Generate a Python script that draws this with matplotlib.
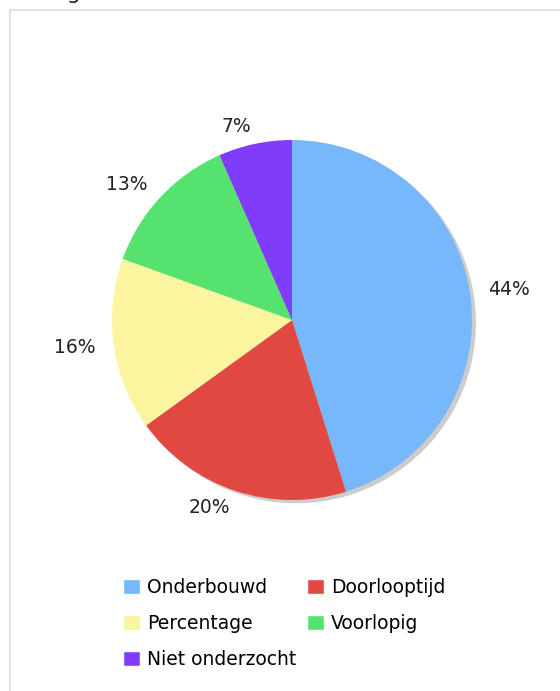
import matplotlib
matplotlib.use("Agg")
import matplotlib.pyplot as plt
from matplotlib.patches import Rectangle

categories = ["Onderbouwd", "Doorlooptijd", "Percentage", "Voorlopig", "Niet onderzocht"]
values = [45.2, 19.9, 15.5, 12.9, 6.6]
pct_labels = ["44%", "20%", "16%", "13%", "7%"]
colors = ["#76b8fb", "#e04841", "#fbf59f", "#56e26e", "#7f3cfb"]

W, H = 560, 691
fig = plt.figure(figsize=(W / 100, H / 100), dpi=100)
fig.patch.set_facecolor("white")

# rand rondom de grafiek
fig.patches.append(Rectangle((10 / W, -0.1), 1.2, 1 - 10 / H + 0.1,
                             transform=fig.transFigure, fill=False,
                             edgecolor="#dddddd", linewidth=1.2))
# afgesneden titel bovenaan
fig.text(42 / W, 1 + 1 / H, "Legenda", fontsize=16, color="#222222", va="baseline")

cx, cy, r = 292, 320, 180
ax = fig.add_axes([(cx - r) / W, 1 - (cy + r) / H, 2 * r / W, 2 * r / H])

# schaduw
ax.pie(values, colors=["#cccccc"] * len(values), startangle=90, counterclock=False,
       center=(0.022, -0.018), radius=1, frame=True)
wedges, texts = ax.pie(values, colors=colors, startangle=90, counterclock=False,
                       labels=pct_labels, labeldistance=1.1, radius=1, frame=True,
                       textprops={"fontsize": 13.5, "color": "#222222"})
ax.set_xlim(-1, 1)
ax.set_ylim(-1, 1)
ax.set_aspect("equal")
ax.axis("off")
for t in texts:
    t.set_clip_on(False)

# volgorde zodat de legenda rij voor rij loopt
order = [0, 2, 4, 1, 3]
leg = fig.legend([wedges[i] for i in order], [categories[i] for i in order],
                 loc="upper left", bbox_to_anchor=(123 / W, 1 - 578 / H),
                 ncol=2, frameon=False, fontsize=13.5, handlelength=0.9, handleheight=0.9,
                 handletextpad=0.4, columnspacing=0.55, labelspacing=0.9,
                 borderaxespad=0, borderpad=0)
for h in leg.legend_handles:
    h.set_edgecolor("white")

fig.savefig("out.png", dpi=100)
